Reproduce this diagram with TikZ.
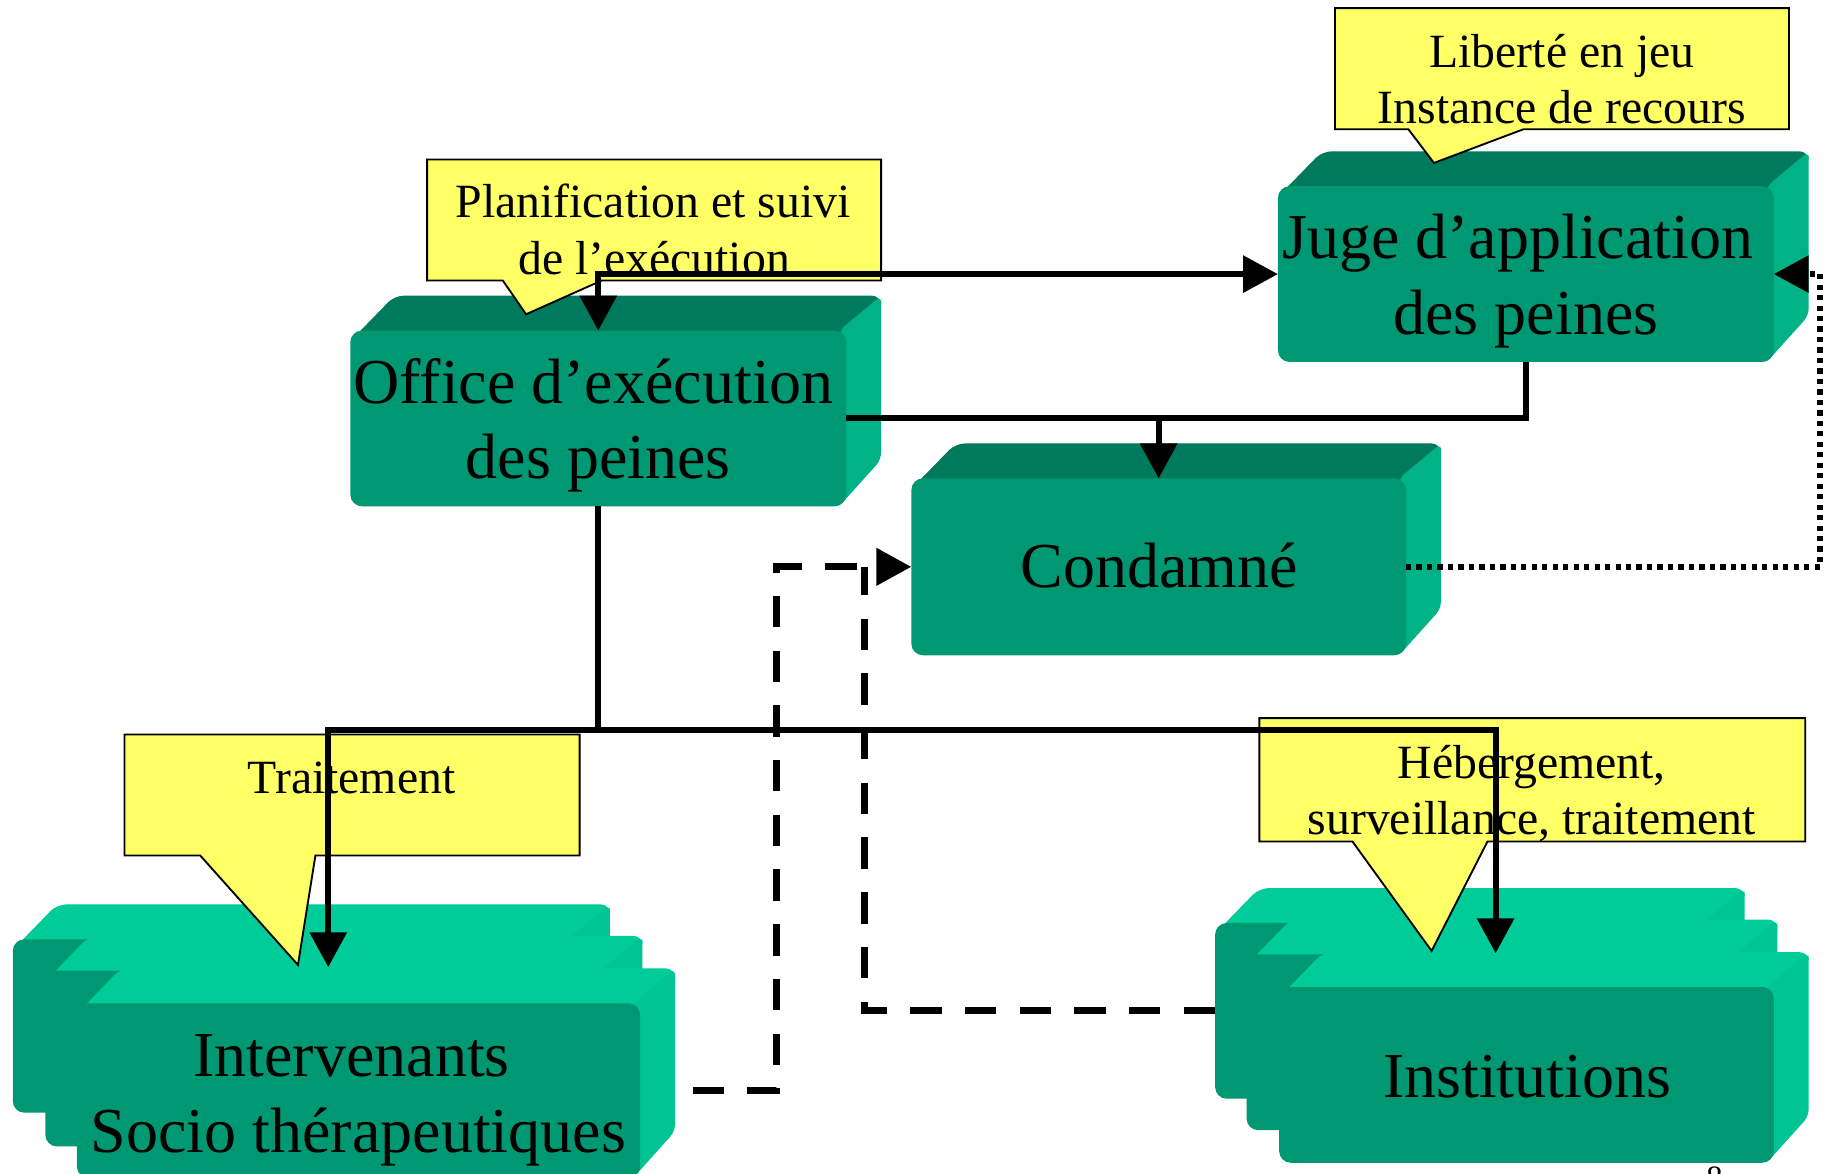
\documentclass[tikz,border=0pt]{standalone}
\usepackage{fontspec}
\setmainfont{Liberation Serif}
\usetikzlibrary{arrows.meta,fit}
\definecolor{frontg}{RGB}{0,152,114}
\definecolor{topg}{RGB}{0,122,92}
\definecolor{sideg}{RGB}{0,178,134}
\definecolor{brightg}{RGB}{0,204,153}
\definecolor{brightside}{RGB}{0,196,147}
\definecolor{calloutY}{RGB}{255,255,102}
% x0 y0 x1 y1 front top side
\newcommand\boxthreed[7]{%
  \fill[#6, rounded corners=4pt] ({#1+3},{#2+6}) -- ({#1+38},{#2-30}) -- ({#3+30},{#2-30}) -- ({#3+30},{#2-20}) -- ({#3},{#2+6}) -- cycle;
  \fill[#7, rounded corners=3pt] ({#3-6},{#2}) -- ({#3+30},{#2-30}) -- ({#3+30},{#4-40}) -- ({#3-6},{#4}) -- cycle;
  \fill[#5, rounded corners=5pt] (#1,#2) rectangle (#3,#4);
}
\begin{document}
\begin{tikzpicture}[x=0.5pt,y=-0.5pt,
  >={Triangle[length=15pt,width=15.5pt]},
  conn/.style={line width=2.6pt},
  dashconn/.style={line width=3pt, dash pattern=on 13.5pt off 10pt},
  dotconn/.style={line width=2.6pt, dash pattern=on 2.25pt off 2.25pt},
  face/.style={inner sep=0pt, outer sep=0pt},
  callout/.style={fill=calloutY, draw=black, line width=0.8pt, line join=miter},
  big/.style={font=\fontsize{27.5}{33}\selectfont, anchor=base, inner sep=0pt},
  small/.style={font=\fontsize{20.5}{24}\selectfont, anchor=base, inner sep=0pt}]
\useasboundingbox (0,0) rectangle (1568,1008);
\fill[white] (0,0) rectangle (1568,1008);
\clip (0,0) rectangle (1568,1008);

% ---------- boxes ----------
\boxthreed{301}{284}{727}{435}{frontg}{topg}{sideg}
\boxthreed{1098}{160}{1524}{311}{frontg}{topg}{sideg}
\boxthreed{783}{411}{1208}{563}{frontg}{topg}{sideg}
% Intervenants stack
\boxthreed{11}{807}{494}{956}{frontg}{brightg}{brightside}
\boxthreed{39}{834}{522}{985}{frontg}{brightg}{brightside}
\boxthreed{66}{862}{550}{1012}{frontg}{brightg}{brightside}
% Institutions stack
\boxthreed{1044}{793}{1469}{944}{frontg}{brightg}{brightside}
\boxthreed{1071}{820}{1497}{971}{frontg}{brightg}{brightside}
\boxthreed{1099}{848}{1524}{999}{frontg}{brightg}{brightside}

\node[face, fit={(301,284) (727,435)}] (office) {};
\node[face, fit={(1098,160) (1524,311)}] (juge) {};
\node[face, fit={(783,411) (1208,563)}] (condamne) {};
\node[face, fit={(66,862) (550,1012)}] (inter) {};
\node[face, fit={(1044,793) (1469,944)}] (instback) {};
\node[face, fit={(1099,848) (1524,999)}] (inst) {};
\coordinate (interin) at (282,831);
\coordinate (instin) at (1285,819);

% ---------- box texts ----------
\node[big] (t-office1) at (510,347) {Office d’exécution};
\node[big] (t-office2) at (514,411) {des peines};
\node[big] (t-juge1) at (1304,222) {Juge d’application};
\node[big] (t-juge2) at (1311,287) {des peines};
\node[big] (t-cond) at (996,505) {Condamné};
\node[big] (t-inter1) at (302,925) {Intervenants};
\node[big] (t-inter2) at (308,990) {Socio thérapeutiques};
\node[big] (t-inst) at (1312,943) {Institutions};
\node[font=\fontsize{14}{17}\selectfont, anchor=base, inner sep=0pt] (pagenum) at (1473,1021) {8};

% ---------- callouts ----------
\draw[callout] (367,137) -- (757,137) -- (757,241) -- (517,241) -- (452,270) -- (432,241) -- (367,241) -- cycle;
\node[small] (c-plan1) at (561,187) {Planification et suivi};
\node[small] (c-plan2) at (562,236) {de l’exécution};

\draw[callout] (1147,7) -- (1537,7) -- (1537,111) -- (1309,111) -- (1232,140) -- (1210,111) -- (1147,111) -- cycle;
\node[small] (c-lib1) at (1342,58) {Liberté en jeu};
\node[small] (c-lib2) at (1342,106) {Instance de recours};

\draw[callout] (107,631) -- (498,631) -- (498,735) -- (271,735) -- (256,829) -- (172,735) -- (107,735) -- cycle;
\node[small] (c-trait) at (302,682) {Traitement};

\draw[callout] (1082,617) -- (1551,617) -- (1551,723) -- (1278,723) -- (1230,817) -- (1162,723) -- (1082,723) -- cycle;
\node[small] (c-heb1) at (1316,669) {Hébergement,};
\node[small] (c-heb2) at (1316,717) {surveillance, traitement};

% ---------- connectors ----------
\draw[conn, <->] (office.north) |- (juge.west);
\draw[conn] (office.east) -- (juge.south |- office.east) -- (juge.south);
\draw[conn, ->] (condamne.north |- office.east) -- (condamne.north);
\coordinate (bus) at (514,627);
\draw[conn] (office.south) -- (bus);
\draw[conn, ->] (bus) -| (interin);
\draw[conn, ->] (bus) -| (instin);

\coordinate (dstart) at (595,937);
\draw[dashconn, ->] (dstart) -- ++(72,0) |- (condamne.west);
\coordinate (merge) at (743,487);
\draw[dashconn] (instback.west) -| (merge);

\coordinate (dotc) at (1564,235.5);
\draw[dotconn, ->] (condamne.east) -| (dotc) -- (juge.east);
\end{tikzpicture}
\end{document}
